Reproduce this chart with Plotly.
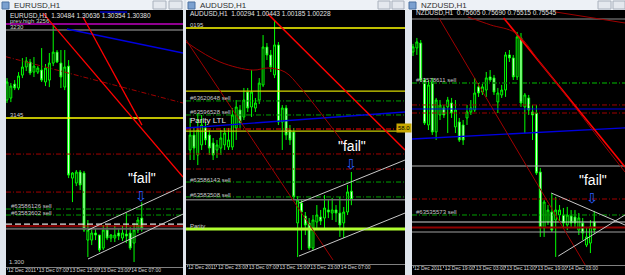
import plotly.graph_objects as go

W, H = 625, 275

# ---------------- EURUSD H1 (hours counted from 12 Dec 00:00) ----------------
EUR_HOURS = list(range(23, 59))
EUR_OPEN = [1.31624, 1.31643, 1.31778, 1.31740, 1.31865, 1.31943, 1.31991, 1.31894, 1.31894, 1.31914,
            1.31798, 1.31817, 1.31981, 1.32087, 1.31981, 1.31749, 1.31952, 1.30870, 1.30822, 1.30928,
            1.30919, 1.30271, 1.30271, 1.30339, 1.30320, 1.30194, 1.30368, 1.30291, 1.30291, 1.30339,
            1.30291, 1.30329, 1.30339, 1.30242, 1.30368, 1.30484]
EUR_HIGH = [1.31836, 1.31788, 1.31817, 1.31894, 1.32029, 1.32039, 1.32020, 1.32039, 1.31952, 1.32126,
            1.31972, 1.32078, 1.32348, 1.32107, 1.32107, 1.32107, 1.32010, 1.30928, 1.30948, 1.30948,
            1.30938, 1.30465, 1.30387, 1.30387, 1.30320, 1.30416, 1.30416, 1.30329, 1.30407, 1.30387,
            1.30407, 1.30532, 1.30397, 1.30436, 1.30494, 1.30636]
EUR_LOW = [1.31595, 1.31604, 1.31720, 1.31720, 1.31836, 1.31904, 1.31865, 1.31846, 1.31875, 1.31798,
           1.31759, 1.31749, 1.31952, 1.31981, 1.31740, 1.31720, 1.30870, 1.30638, 1.30793, 1.30754,
           1.30349, 1.30107, 1.30223, 1.30271, 1.30155, 1.30175, 1.30271, 1.30252, 1.30252, 1.30271,
           1.30262, 1.30242, 1.30175, 1.30059, 1.30339, 1.30354]
EUR_CLOSE = [1.31798, 1.31759, 1.31740, 1.31856, 1.31943, 1.32001, 1.31885, 1.31952, 1.31933, 1.31817,
             1.31933, 1.31981, 1.32087, 1.31991, 1.31846, 1.31943, 1.30899, 1.30919, 1.30928, 1.30803,
             1.30368, 1.30368, 1.30339, 1.30320, 1.30175, 1.30368, 1.30291, 1.30320, 1.30320, 1.30310,
             1.30339, 1.30310, 1.30194, 1.30368, 1.30465, 1.30380]
EUR_TICKS = [23, 31, 39, 47, 55]
EUR_TICKTEXT = ["12 Dec 2011", "13 Dec 07:00", "13 Dec 15:00", "13 Dec 23:00", "14 Dec 07:00"]
EUR_XRANGE = [22.74, 68.71]
EUR_YRANGE = [1.30011, 1.32484]
EUR_LEVELS = [1.32358, 1.32300, 1.31450, 1.31102, 1.30735, 1.30571, 1.30513, 1.30426, 1.30407, 1.30380]
EUR_TRENDS = [[38.58, 1.32310, 68.71, 1.32078],
              [47.16, 1.32474, 54.17, 1.32474],
              [22.74, 1.32042, 68.71, 1.31595],
              [32.35, 1.32464, 68.71, 1.30880],
              [42.74, 1.32426, 58.06, 1.31382],
              [44.04, 1.30368, 68.71, 1.30793],
              [44.04, 1.30088, 68.71, 1.30522]]

# ---------------- AUDUSD H1 ----------------
AUD_HOURS = list(range(16, 59))
AUD_OPEN = [1.00614, 1.00730, 1.00575, 1.00653, 1.00785, 1.00730, 1.00668, 1.00614, 1.00629, 1.00653,
            1.00637, 1.00637, 1.00785, 1.00925, 1.00870, 1.01064, 1.00948, 1.00940, 1.01002, 1.01119,
            1.01414, 1.01352, 1.01197, 1.01430, 1.00831, 1.00940, 1.00769, 1.00754, 1.00047, 1.00202,
            1.00101, 1.00047, 0.99852, 1.00054, 1.00093, 1.00085, 1.00148, 1.00124, 1.00148, 1.00124,
            1.00047, 1.00132, 1.00294]
AUD_HIGH = [1.00862, 1.00785, 1.00901, 1.00886, 1.00831, 1.00769, 1.00707, 1.00692, 1.00769, 1.00785,
            1.00785, 1.00940, 1.01002, 1.00963, 1.01096, 1.01096, 1.01235, 1.01018, 1.01173, 1.01507,
            1.01445, 1.01391, 1.01624, 1.01453, 1.00963, 1.00963, 1.00808, 1.00785, 1.00256, 1.00225,
            1.00132, 1.00085, 1.00109, 1.00186, 1.00148, 1.00264, 1.00225, 1.00241, 1.00186, 1.00249,
            1.00171, 1.00342, 1.00443]
AUD_LOW = [1.00536, 1.00536, 1.00497, 1.00614, 1.00653, 1.00575, 1.00536, 1.00552, 1.00575, 1.00614,
           1.00614, 1.00614, 1.00692, 1.00785, 1.00847, 1.00909, 1.00870, 1.00909, 1.00971, 1.01103,
           1.01313, 1.01220, 1.01173, 1.00808, 1.00614, 1.00692, 1.00653, 1.00225, 0.99782, 0.99837,
           0.99953, 0.99837, 0.99837, 1.00008, 1.00031, 0.99992, 1.00085, 1.00070, 1.00054, 0.99938,
           0.99930, 1.00109, 1.00185]
AUD_CLOSE = [1.00730, 1.00629, 1.00769, 1.00808, 1.00692, 1.00629, 1.00575, 1.00653, 1.00707, 1.00746,
             1.00692, 1.00886, 1.00948, 1.00824, 1.01002, 1.00940, 1.01064, 1.00979, 1.01134, 1.01414,
             1.01352, 1.01259, 1.01430, 1.00831, 1.00940, 1.00730, 1.00692, 1.00249, 1.00225, 1.00132,
             1.00031, 0.99852, 1.00070, 1.00109, 1.00062, 1.00163, 1.00132, 1.00148, 1.00124, 1.00031,
             1.00132, 1.00288, 1.00228]
AUD_TICKS = [15.2, 23, 31, 39, 47, 55]
AUD_TICKTEXT = ["12 Dec 2011", "12 Dec 23:00", "13 Dec 07:00", "13 Dec 15:00", "13 Dec 23:00", "14 Dec 07:00"]
AUD_XRANGE = [14.93, 71.96]
AUD_YRANGE = [0.99728, 1.01694]
AUD_LEVELS = [1.01562, 1.01072, 1.00995, 1.00886, 1.00777, 1.00761, 1.00583, 1.00466, 1.00365, 1.00249,
              1.00228, 1.00000]
AUD_TRENDS = [[14.93, 1.00785, 71.96, 1.00909],
              [36.28, 1.01671, 71.96, 1.00614],
              [14.93, 1.01469, 53.21, 0.99759],
              [44.35, 1.00202, 71.96, 1.00536],
              [44.35, 0.99790, 71.96, 1.00124]]
AUD_MA_HOURS = [14.93, 23.78, 32.38, 36.28, 40.71, 44.61, 49.82, 56.33]
AUD_MA_PRICE = [1.01453, 1.01298, 1.01235, 1.01251, 1.01220, 1.01103, 1.00909, 1.00653]

# ---------------- NZDUSD H1 ----------------
NZD_HOURS = list(range(11, 59))
NZD_OPEN = [0.76914, 0.76945, 0.76983, 0.76698, 0.76352, 0.76683, 0.76298, 0.76429, 0.76483, 0.76491,
            0.76521, 0.76337, 0.76375, 0.76352, 0.76406, 0.76452, 0.76467, 0.76645, 0.76606, 0.76621,
            0.76722, 0.76714, 0.76529, 0.76583, 0.76621, 0.76891, 0.76868, 0.76722, 0.77022, 0.76491,
            0.76560, 0.76452, 0.76444, 0.75990, 0.75559, 0.75605, 0.75682, 0.75620, 0.75659, 0.75659,
            0.75582, 0.75651, 0.75644, 0.75543, 0.75597, 0.75428, 0.75443, 0.75605]
NZD_HIGH = [0.76976, 0.77022, 0.77006, 0.76714, 0.76698, 0.76714, 0.76560, 0.76544, 0.76506, 0.76568,
            0.76560, 0.76544, 0.76406, 0.76390, 0.76506, 0.76544, 0.76714, 0.76675, 0.76668, 0.76760,
            0.76775, 0.76737, 0.76637, 0.76660, 0.76914, 0.76929, 0.76891, 0.77068, 0.77060, 0.76598,
            0.76583, 0.76506, 0.76506, 0.76021, 0.75774, 0.75736, 0.75828, 0.75798, 0.75736, 0.75713,
            0.75721, 0.75697, 0.75697, 0.75674, 0.75636, 0.75567, 0.75620, 0.75690]
NZD_LOW = [0.76883, 0.76891, 0.76683, 0.76352, 0.76313, 0.76275, 0.76236, 0.76390, 0.76406, 0.76290,
           0.76406, 0.76290, 0.76221, 0.76198, 0.76352, 0.76429, 0.76452, 0.76568, 0.76583, 0.76568,
           0.76683, 0.76583, 0.76444, 0.76560, 0.76568, 0.76837, 0.76698, 0.76698, 0.76491, 0.76290,
           0.76429, 0.76236, 0.75967, 0.75490, 0.75490, 0.75582, 0.75528, 0.75336, 0.75605, 0.75559,
           0.75543, 0.75567, 0.75559, 0.75505, 0.75466, 0.75412, 0.75366, 0.75515]
NZD_CLOSE = [0.76953, 0.76991, 0.76698, 0.76367, 0.76660, 0.76298, 0.76544, 0.76506, 0.76429, 0.76544,
             0.76444, 0.76467, 0.76236, 0.76236, 0.76452, 0.76483, 0.76598, 0.76598, 0.76645, 0.76714,
             0.76698, 0.76606, 0.76598, 0.76621, 0.76891, 0.76868, 0.76722, 0.77030, 0.76521, 0.76583,
             0.76467, 0.76429, 0.75982, 0.75559, 0.75759, 0.75697, 0.75543, 0.75697, 0.75697, 0.75597,
             0.75659, 0.75597, 0.75597, 0.75636, 0.75520, 0.75490, 0.75567, 0.75545]
NZD_TICKS = [11, 19, 27, 35, 43, 51]
NZD_TICKTEXT = ["12 Dec 2011", "12 Dec 19:00", "13 Dec 03:00", "13 Dec 11:00", "13 Dec 19:00", "14 Dec 03:00"]
NZD_XRANGE = [10.74, 65.97]
NZD_YRANGE = [0.75274, 0.77237]
NZD_LEVELS = [0.77168, 0.76675, 0.76506, 0.76475, 0.76444, 0.76036, 0.75782, 0.75659, 0.75605, 0.75563,
              0.75528]
NZD_TRENDS = [[10.74, 0.76244, 65.97, 0.76329],
              [17.71, 0.77176, 55.65, 0.75274],
              [34.48, 0.77176, 65.97, 0.76029],
              [46.87, 0.75828, 65.97, 0.75582],
              [48.68, 0.75343, 65.97, 0.75659],
              [47.90, 0.77222, 65.97, 0.77137]]
NZD_MA_HOURS = [25.19, 31.13, 37.58, 44.81, 53.58, 59.52, 65.97]
NZD_MA_PRICE = [0.77184, 0.77122, 0.77060, 0.76799, 0.76467, 0.76236, 0.75990]

# ---------------- styles ----------------
LIME = "#00ff00"
RED = "#ff0000"
DRED = "#a00000"
DD = "5px,2px,1px,2px"

EUR_LEVEL_STYLE = [("#c000c0", 1.5, "solid"), ("#707070", 1.5, "solid"), ("#ffff00", 1.5, "solid"),
                   (DRED, 1, DD), (DRED, 1, DD), ("#00a000", 1, DD), ("#00a000", 1, DD),
                   ("#e0e0e0", 1.2, "6px,3px"), ("#ff0000", 1, "solid"), ("#606060", 2, "solid")]
EUR_TREND_STYLE = [("#0000e0", 1.3, "solid"), ("#0000e0", 1.3, "solid"), (DRED, 1, DD),
                   (RED, 1.3, "solid"), (RED, 1.3, "solid"), ("#c8c8c8", 1, "solid"), ("#c8c8c8", 1, "solid")]
AUD_LEVEL_STYLE = [("#ffff00", 1.5, "solid"), ("#d8d800", 1.2, "solid"), ("#00a000", 1, DD), ("#00a000", 1, DD),
                   (RED, 1, DD), ("#c8c800", 1.2, "solid"), (DRED, 1, DD), (DRED, 1, DD),
                   ("#00a000", 1, DD), ("#00a000", 1, DD), ("#707070", 1.5, "solid"), ("#b0ff30", 3, "solid")]
AUD_TREND_STYLE = [("#0000e0", 1.3, "solid"), (RED, 1.5, "solid"), (DRED, 1, "solid"),
                   ("#c8c8c8", 1, "solid"), ("#c8c8c8", 1, "solid")]
NZD_LEVEL_STYLE = [("#606060", 1.5, "solid"), ("#008000", 1.5, DD), (DRED, 1, DD), ("#0000e0", 1, "solid"),
                   (DRED, 1, DD), ("#b0b0b0", 1.2, "solid"), (DRED, 1, DD), ("#00a000", 1, DD),
                   ("#d0d0d0", 1.2, "solid"), ("#900000", 2, "solid"), ("#a0a0a0", 1, "solid")]
NZD_TREND_STYLE = [("#0000e0", 1.3, "solid"), (DRED, 1, "solid"), (RED, 1.6, "solid"),
                   ("#c8c8c8", 1, "solid"), ("#c8c8c8", 1, "solid"), (DRED, 1, "solid")]


def X(px):
    return px / W


def Y(py):
    return 1 - py / H


fig = go.Figure()

panels = [
    ("", EUR_HOURS, EUR_OPEN, EUR_HIGH, EUR_LOW, EUR_CLOSE, EUR_XRANGE, EUR_LEVELS, EUR_LEVEL_STYLE,
     EUR_TRENDS, EUR_TREND_STYLE, None, None),
    ("2", AUD_HOURS, AUD_OPEN, AUD_HIGH, AUD_LOW, AUD_CLOSE, AUD_XRANGE, AUD_LEVELS, AUD_LEVEL_STYLE,
     AUD_TRENDS, AUD_TREND_STYLE, AUD_MA_HOURS, AUD_MA_PRICE),
    ("3", NZD_HOURS, NZD_OPEN, NZD_HIGH, NZD_LOW, NZD_CLOSE, NZD_XRANGE, NZD_LEVELS, NZD_LEVEL_STYLE,
     NZD_TRENDS, NZD_TREND_STYLE, NZD_MA_HOURS, NZD_MA_PRICE),
]

for sfx, hrs, o, hi, lo, c, xr, levels, lstyle, trends, tstyle, mah, map_ in panels:
    xa, ya = "x" + sfx, "y" + sfx
    for lv, (col, wd, ds) in zip(levels, lstyle):
        fig.add_trace(go.Scatter(x=xr, y=[lv, lv], mode="lines", xaxis=xa, yaxis=ya,
                                 line=dict(color=col, width=wd, dash=ds), hoverinfo="skip", showlegend=False))
    for tr, (col, wd, ds) in zip(trends, tstyle):
        fig.add_trace(go.Scatter(x=[tr[0], tr[2]], y=[tr[1], tr[3]], mode="lines", xaxis=xa, yaxis=ya,
                                 line=dict(color=col, width=wd, dash=ds), hoverinfo="skip", showlegend=False))
    if mah is not None:
        fig.add_trace(go.Scatter(x=mah, y=map_, mode="lines", xaxis=xa, yaxis=ya, line_shape="spline",
                                 line=dict(color=DRED, width=1), hoverinfo="skip", showlegend=False))
    fig.add_trace(go.Candlestick(
        x=hrs, open=o, high=hi, low=lo, close=c, xaxis=xa, yaxis=ya, whiskerwidth=0,
        increasing=dict(line=dict(color=LIME, width=1), fillcolor="#000000"),
        decreasing=dict(line=dict(color=LIME, width=1), fillcolor="#ffffff"),
        hoverinfo="skip", showlegend=False))

axis_common = dict(showgrid=False, zeroline=False, showline=True, linecolor="#808080", linewidth=1,
                   ticks="outside", ticklen=2, tickcolor="#808080", ticklabelposition="outside right",
                   ticklabelstandoff=-2, tickangle=0,
                   tickfont=dict(family="Liberation Sans", size=5, color="#d8d8d8"),
                   rangeslider=dict(visible=False), fixedrange=True)
yaxis_common = dict(visible=False, fixedrange=True)

layout_axes = dict(
    xaxis=dict(axis_common, domain=[X(6), X(183)], range=EUR_XRANGE, anchor="y",
               tickvals=EUR_TICKS, ticktext=EUR_TICKTEXT),
    yaxis=dict(yaxis_common, domain=[Y(267), Y(11)], range=EUR_YRANGE, anchor="x"),
    xaxis2=dict(axis_common, domain=[X(186), X(405)], range=AUD_XRANGE, anchor="y2",
                tickvals=AUD_TICKS, ticktext=AUD_TICKTEXT),
    yaxis2=dict(yaxis_common, domain=[Y(264), Y(11)], range=AUD_YRANGE, anchor="x2"),
    xaxis3=dict(axis_common, domain=[X(412), X(625)], range=NZD_XRANGE, anchor="y3",
                tickvals=NZD_TICKS, ticktext=NZD_TICKTEXT),
    yaxis3=dict(yaxis_common, domain=[Y(265), Y(10)], range=NZD_YRANGE, anchor="x3"),
)

shapes = []
# window chrome (title bars and black chart areas)
for x0, x1 in [(0, 184), (186, 407), (407, 625)]:
    shapes.append(dict(type="rect", xref="paper", yref="paper", x0=X(x0), x1=X(x1), y0=Y(10), y1=Y(0),
                       fillcolor="#edf1f6", line=dict(width=0), layer="below"))
for x0, x1 in [(6, 183), (186, 405), (412, 625)]:
    shapes.append(dict(type="rect", xref="paper", yref="paper", x0=X(x0), x1=X(x1), y0=Y(275), y1=Y(10),
                       fillcolor="#000000", line=dict(width=0), layer="below"))
for x0, x1 in [(153, 166), (169, 182), (378, 390), (392, 404), (598, 611), (613, 625)]:
    shapes.append(dict(type="rect", xref="paper", yref="paper", x0=X(x0), x1=X(x1), y0=Y(9), y1=Y(1),
                       fillcolor="#e4e8ee", line=dict(color="#a8b0bc", width=1), layer="below"))
for x0 in [2, 188, 409]:
    shapes.append(dict(type="rect", xref="paper", yref="paper", x0=X(x0), x1=X(x0 + 7), y0=Y(9), y1=Y(2),
                       fillcolor="#7aa0d0", line=dict(color="#4a70a0", width=1), layer="below"))

ann = []


def txt(x, y, s, size=7, color="#d0d0d0", fam="Liberation Sans", bg=None):
    d = dict(xref="paper", yref="paper", x=X(x), y=Y(y), text=s, showarrow=False, xanchor="left",
             yanchor="middle", font=dict(family=fam, size=size, color=color))
    if bg:
        d["bgcolor"] = bg
    ann.append(d)


# title bar captions
txt(12, 5, "EURUSD,H1", 8, "#303030")
txt(198, 5, "AUDUSD,H1", 8, "#303030")
txt(419, 5, "NZDUSD,H1", 8, "#303030")
# chart headers
txt(8, 15, "EURUSD,H1  1.30484 1.30636 1.30354 1.30380", 6.5, "#e0e0e0")
txt(188, 14, "AUDUSD,H1  1.00294 1.00443 1.00185 1.00228", 6.5, "#e0e0e0")
txt(414, 13, "NZDUSD,H1  0.75605 0.75690 0.75515 0.75545", 6.5, "#e0e0e0")
# line labels
txt(8, 21, "prev.high 3256", 6, "#d0d0d0")
txt(8, 27, "3230", 6, "#d0d0d0")
txt(8, 115, "3145", 6, "#d0d0d0")
txt(9, 206, "#63586126 sell", 6, "#c8c8c8")
txt(9, 213, "#63583602 sell", 6, "#c8c8c8")
txt(7, 262, "1.300", 6, "#c8c8c8")
txt(188, 25, "0195", 6, "#d0d0d0")
txt(188, 98, "#63620648 sell", 6, "#c8c8c8")
txt(188, 112, "#63596528 sell", 6, "#c8c8c8")
txt(188, 121, "Parity LTL", 8, "#e8e8e8")
txt(188, 180, "#63586143 sell", 6, "#c8c8c8")
txt(188, 195, "#63583508 sell", 6, "#c8c8c8")
txt(188, 226, "Parity", 6, "#d0d0d0")
txt(396, 128, "58.0", 6, "#000000", bg="#c8a800")
txt(414, 80, "#63578611 sell", 6, "#c8c8c8")
txt(414, 212, "#63535573 sell", 6, "#c8c8c8")
# "fail" notes with arrows
for fx, fy in [(142, 178), (352, 146), (593, 180)]:
    ann.append(dict(xref="paper", yref="paper", x=X(fx), y=Y(fy), text='"fail"', showarrow=False,
                    xanchor="center", yanchor="middle",
                    font=dict(family="Liberation Sans", size=14, color="#ffffff")))
    ann.append(dict(xref="paper", yref="paper", x=X(fx - 1), y=Y(fy + 18), text="\u21e9", showarrow=False,
                    xanchor="center", yanchor="middle",
                    font=dict(family="DejaVu Sans", size=14, color="#2a5cff")))

fig.update_layout(
    width=W, height=H, margin=dict(l=0, r=0, t=0, b=0),
    paper_bgcolor="#dfe5ec", plot_bgcolor="rgba(0,0,0,0)",
    showlegend=False, hovermode=False,
    shapes=shapes, annotations=ann, **layout_axes)

fig.write_html("out.html")
